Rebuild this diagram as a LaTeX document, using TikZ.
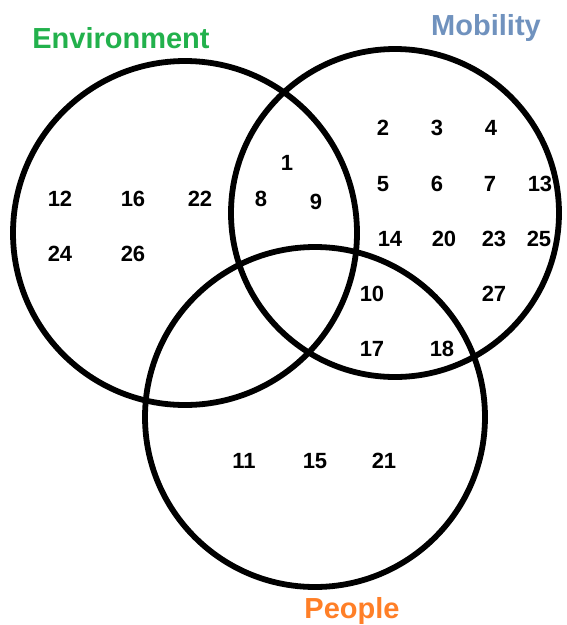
\documentclass[tikz,border=0pt]{standalone}
\usepackage{fontspec}
\setmainfont{Liberation Sans}
\definecolor{envgreen}{HTML}{22B14C}
\definecolor{mobblue}{HTML}{7092BE}
\definecolor{pplorange}{HTML}{FF7F27}
\begin{document}
\begin{tikzpicture}[x=1pt,y=-1pt,
  ring/.style={draw=black,line width=5.8pt},
  num/.style={inner sep=0pt,yshift=-4pt,text height=0.716em,text depth=0pt,font=\fontsize{22}{24}\selectfont\bfseries},
  head/.style={inner sep=0pt,anchor=base,font=\fontsize{29}{32}\selectfont\bfseries}]
\useasboundingbox[fill=white] (0,0) rectangle (566,625);
\draw[ring] (185,233) circle[radius=172];
\draw[ring] (395,213) circle[radius=164];
\draw[ring] (315,417) circle[radius=170];
\node[head,text=envgreen] (henv) at (121,48) {Environment};
\node[head,text=mobblue] (hmob) at (486,35) {Mobility};
\node[head,text=pplorange] (hppl) at (352,618) {People};
\node[num] (n12) at (60,199) {12};
\node[num] (n16) at (133,199) {16};
\node[num] (n22) at (200,199) {22};
\node[num] (n24) at (60,254) {24};
\node[num] (n26) at (133,254) {26};
\node[num] (n1) at (287,163) {1};
\node[num] (n8) at (261,199) {8};
\node[num] (n9) at (316,202) {9};
\node[num] (n2) at (383,128) {2};
\node[num] (n3) at (437,128) {3};
\node[num] (n4) at (491,128) {4};
\node[num] (n5) at (383,184) {5};
\node[num] (n6) at (437,184) {6};
\node[num] (n7) at (490,184) {7};
\node[num] (n13) at (540,184) {13};
\node[num] (n14) at (390,239) {14};
\node[num] (n20) at (444,239) {20};
\node[num] (n23) at (494,239) {23};
\node[num] (n25) at (539,239) {25};
\node[num] (n10) at (372,294) {10};
\node[num] (n27) at (494,294) {27};
\node[num] (n17) at (372,349) {17};
\node[num] (n18) at (442,349) {18};
\node[num] (n11) at (244,461) {11};
\node[num] (n15) at (315,461) {15};
\node[num] (n21) at (384,461) {21};
\end{tikzpicture}
\end{document}
